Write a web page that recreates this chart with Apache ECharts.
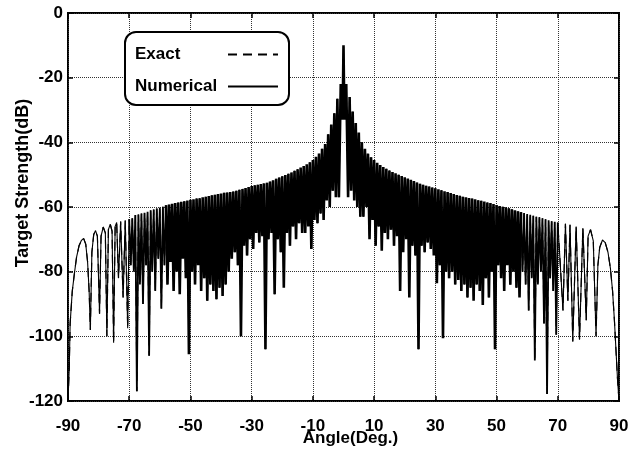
<!DOCTYPE html>
<html>
<head>
<meta charset="utf-8">
<script src="https://cdn.jsdelivr.net/npm/echarts@6/dist/echarts.min.js"></script>
<style>html,body{margin:0;padding:0;background:#fff}#c{width:643px;height:453px}</style>
</head>
<body>
<div id="c"></div>
<script>
const FONT = '"Liberation Sans", Arial, sans-serif';
const xTicks = [-90, -70, -50, -30, -10, 10, 30, 50, 70, 90];
const seriesNames = ['Exact', 'Numerical'];

// wide lobes near -90
const leftEndAngles = [-90,-89.6,-89.3,-88.6,-87.9,-87.2,-86.4,-85.6,-84.9,-84.2,-83.6,-83.1,-82.7,-82.2,-81.6,-81,-80.4,-79.7,-79.2,-78.5,-77.8,-77.3,-76.8,-76.2,-75.6,-75.1,-74.6,-74.1,-73.5,-72.8,-72,-71.3,-70.5,-70];
const leftEndDb = [-120,-110,-96,-86,-80.5,-75.5,-72,-70.3,-69.7,-71.5,-77,-86,-98,-74,-68.5,-67.3,-69,-93,-69,-66.2,-68,-100,-67,-65.3,-67.5,-102,-66,-64.8,-82,-64.5,-88,-64.2,-97.5,-63.8];

// main lobe around 0 deg
const mainLobeAngles = [-0.9, -0.3, 0, 0.3, 0.9];
const mainLobeDb = [-22, -33, -10, -33, -22];

// lobe maxima in the dense middle part
const midPeakAngles = [-69,-68,-67,-66,-65,-64,-63,-62,-61,-60,-59,-58,-57,-56,-55,-54,-53,-52,-51,-50,-49,-48,-47,-46,-45,-44,-43,-42,-41,-40,-39,-38,-37,-36,-35,-34,-33,-32,-31,-30,-29,-28,-27,-26,-25,-24,-23,-22,-21,-20,-19,-18,-17,-16,-15,-14,-13,-12,-11,-10,-9,-8,-7,-6,-5,-4,-3,-2,
  2,3,4,5,6,7,8,9,10,11,12,13,14,15,16,17,18,19,20,21,22,23,24,25,26,27,28,29,30,31,32,33,34,35,36,37,38,39,40,41,42,43,44,45,46,47,48,49,50,51,52,53,54,55,56,57,58,59,60,61,62,63,64,65,66,67,68,69,70];
const midPeakDb = [-63.5,-62.5,-62.3,-62,-61.8,-61.5,-61,-60.8,-60.5,-60.2,
  -59.9,-59.5,-59.2,-59,-58.8,-58.6,-58.4,-58.2,-58,-57.8,
  -57.6,-57.4,-57.3,-57,-56.8,-56.6,-56.4,-56.2,-56,-55.8,
  -55.6,-55.5,-55.4,-55.2,-55,-54.7,-54.4,-54.1,-53.8,-53.5,
  -53.3,-53.1,-52.9,-52.7,-52.5,-52.1,-51.7,-51.3,-50.9,-50.5,
  -50.1,-49.7,-49.3,-48.8,-48.3,-47.8,-47.3,-46.8,-46.2,-45.5,
  -44.5,-43.5,-42,-40.5,-37.5,-34.5,-31,-26.5,
  -26,-30.5,-34,-37,-40,-42,-43.5,-44.6,-45.5,-46.3,
  -47,-47.6,-48.2,-48.7,-49.2,-49.6,-50,-50.4,-50.8,-51.2,
  -51.6,-52,-52.4,-52.8,-53.1,-53.4,-53.7,-54,-54.2,-54.5,
  -54.8,-55.1,-55.4,-55.7,-56,-56.3,-56.5,-56.8,-57,-57.2,
  -57.4,-57.6,-57.9,-58.1,-58.3,-58.6,-58.8,-59.1,-59.4,-59.7,
  -59.9,-60.1,-60.4,-60.7,-61,-61.3,-61.6,-61.9,-62.2,-62.4,
  -62.7,-63,-63.2,-63.5,-63.8,-64.1,-64.4,-64.6,-64.8];

// nulls between lobes in the dense middle part
const midNullAngles = [-69.5,-68.5,-67.5,-66.5,-65.5,-64.5,-63.5,-62.5,-61.5,-60.5,-59.5,-58.5,-57.5,-56.5,-55.5,-54.5,-53.5,-52.5,-51.5,-50.5,-49.5,-48.5,-47.5,-46.5,-45.5,-44.5,-43.5,-42.5,-41.5,-40.5,-39.5,-38.5,-37.5,-36.5,-35.5,-34.5,-33.5,-32.5,-31.5,-30.5,-29.5,-28.5,-27.5,-26.5,-25.5,-24.5,-23.5,-22.5,-21.5,-20.5,-19.5,-18.5,-17.5,-16.5,-15.5,-14.5,-13.5,-12.5,-11.5,-10.5,-9.5,-8.5,-7.5,-6.5,-5.5,-4.5,-3.5,-2.5,-1.5,
  1.5,2.5,3.5,4.5,5.5,6.5,7.5,8.5,9.5,10.5,11.5,12.5,13.5,14.5,15.5,16.5,17.5,18.5,19.5,20.5,21.5,22.5,23.5,24.5,25.5,26.5,27.5,28.5,29.5,30.5,31.5,32.5,33.5,34.5,35.5,36.5,37.5,38.5,39.5,40.5,41.5,42.5,43.5,44.5,45.5,46.5,47.5,48.5,49.5,50.5,51.5,52.5,53.5,54.5,55.5,56.5,57.5,58.5,59.5,60.5,61.5,62.5,63.5,64.5,65.5,66.5,67.5,68.5,69.5];
const midNullDb = [-78,-80,-117,-84,-90,-78,-106,-80,-86,-76,
  -91.5,-78,-84,-77,-86,-80,-87,-76,-82,-105.5,
  -80,-84,-78,-86,-82,-89,-84,-86,-88.5,-85,
  -87.5,-84,-80,-76,-74,-78,-100,-72,-75,-70,
  -73,-68,-71,-69,-104,-70,-68,-87,-70,-74,
  -85,-68,-72,-66,-70,-65,-68,-68,-66,-73,
  -64,-65,-62,-64,-58,-60,-55,-57,-57,
  -57,-55,-58,-60,-63,-63,-60,-70,-64,-72,
  -66,-73.5,-68,-70,-67,-72,-69,-86,-74,-70,
  -88,-72,-75,-104,-72,-74,-71,-73,-75,-83.6,
  -78,-100.6,-80,-82,-80,-84,-82.6,-86,-84,-88,
  -85,-89,-84,-86,-90.3,-82,-88,-80,-104,-78,
  -82,-86,-78,-84,-80,-85,-88,-80,-84,-92,
  -82,-107.5,-84,-80,-96,-117.8,-82,-86,-99.5];

// wide lobes near +90
const rightEndAngles = [71.7,72.5,73.3,74,74.9,76,77.1,78.2,79.3,79.9,80.7,81.6,82.5,83.1,83.7,84.6,85.5,86.4,87.2,87.9,88.5,89,89.5,90];
const rightEndDb = [-92,-65.2,-89,-65.5,-101.6,-66,-101,-66.5,-95,-69,-67,-70.5,-100,-78,-72.5,-70.2,-71,-74,-79,-86,-95,-104,-113,-120];

function pairs(a, v) { const n = Math.min(a.length, v.length); const r = []; for (let i = 0; i < n; i++) r.push([a[i], v[i]]); return r; }
const curve = [].concat(pairs(leftEndAngles, leftEndDb), pairs(mainLobeAngles, mainLobeDb), pairs(midPeakAngles, midPeakDb),
  pairs(midNullAngles, midNullDb), pairs(rightEndAngles, rightEndDb)).sort((p, q) => p[0] - q[0]);
// the trace is drawn in zones: dense centre, lighter shoulders, sparse wide lobes at the ends
const denseEdge = 58, shoulderEdge = 70;
const inRange = (lo, hi) => curve.filter(p => p[0] >= lo && p[0] <= hi);
const zones = [
  { data: inRange(-denseEdge, denseEdge), width: 2.6 },
  { data: inRange(-shoulderEdge, -denseEdge), width: 1.8 },
  { data: inRange(denseEdge, shoulderEdge), width: 1.8 },
  { data: inRange(-90, -shoulderEdge), width: 1.1 },
  { data: inRange(shoulderEdge, 90), width: 1.1 }
];

const chart = echarts.init(document.getElementById('c'), null, { renderer: 'canvas' });
const gridLine = { show: true, lineStyle: { type: 'dotted', color: '#333', width: 1 } };
const tick = { inside: true, length: 5, lineStyle: { color: '#000', width: 1.5 } };
const numericalSeries = zones.map(z => ({
  name: 'Numerical', type: 'line', data: z.data, symbol: 'none', z: 3,
  lineStyle: { color: '#000', width: z.width }, itemStyle: { color: '#000' }
}));
chart.setOption({
  animation: false,
  backgroundColor: '#fff',
  grid: { left: 68, right: 24, top: 13, bottom: 52, show: true, borderColor: '#000', borderWidth: 2,
    backgroundColor: 'transparent', containLabel: false, outerBoundsMode: 'none' },
  legend: {
    data: seriesNames, orient: 'vertical', left: 125, top: 32, align: 'right',
    itemWidth: 50, itemHeight: 14, itemGap: 15, padding: [14, 10, 10, 10],
    borderColor: '#000', borderWidth: 2, borderRadius: 11, backgroundColor: '#fff',
    lineStyle: { width: 2 }, itemStyle: { opacity: 0 },
    formatter: n => '{t|' + n + '}',
    textStyle: { color: '#000', rich: { t: { width: 88, align: 'left', fontWeight: 'bold', fontSize: 17, fontFamily: FONT, color: '#000' } } }
  },
  xAxis: [{
    type: 'value', min: -90, max: 90, position: 'bottom',
    axisLine: { show: false, onZero: false },
    axisTick: Object.assign({ customValues: xTicks }, tick),
    axisLabel: { customValues: xTicks, color: '#000', fontWeight: 'bold', fontSize: 17, fontFamily: FONT, margin: 17 },
    splitLine: gridLine,
    name: 'Angle(Deg.)', nameLocation: 'middle', nameGap: 29, nameMoveOverlap: false,
    nameTextStyle: { color: '#000', fontWeight: 'bold', fontSize: 17, fontFamily: FONT, padding: [0, 0, 0, 14] }
  }, {
    type: 'value', min: -90, max: 90, position: 'top',
    axisLine: { show: false, onZero: false }, axisLabel: { show: false }, splitLine: { show: false },
    axisTick: Object.assign({ customValues: xTicks }, tick)
  }],
  yAxis: [{
    type: 'value', min: -120, max: 0, interval: 20, position: 'left',
    axisLine: { show: false, onZero: false },
    axisTick: tick,
    axisLabel: { color: '#000', fontWeight: 'bold', fontSize: 17, fontFamily: FONT, margin: 5 },
    splitLine: gridLine,
    name: 'Target Strength(dB)', nameLocation: 'middle', nameGap: 36, nameMoveOverlap: false,
    nameTextStyle: { color: '#000', fontWeight: 'bold', fontSize: 18, fontFamily: FONT, padding: [0, 0, 0, 48] }
  }, {
    type: 'value', min: -120, max: 0, interval: 20, position: 'right',
    axisLine: { show: false, onZero: false }, axisLabel: { show: false }, splitLine: { show: false },
    axisTick: tick
  }],
  series: [
    { name: 'Exact', type: 'line', data: curve, symbol: 'none', z: 2,
      lineStyle: { color: '#000', width: 1.2, type: [9, 6] }, itemStyle: { color: '#000' } }
  ].concat(numericalSeries)
});
</script>
</body>
</html>
